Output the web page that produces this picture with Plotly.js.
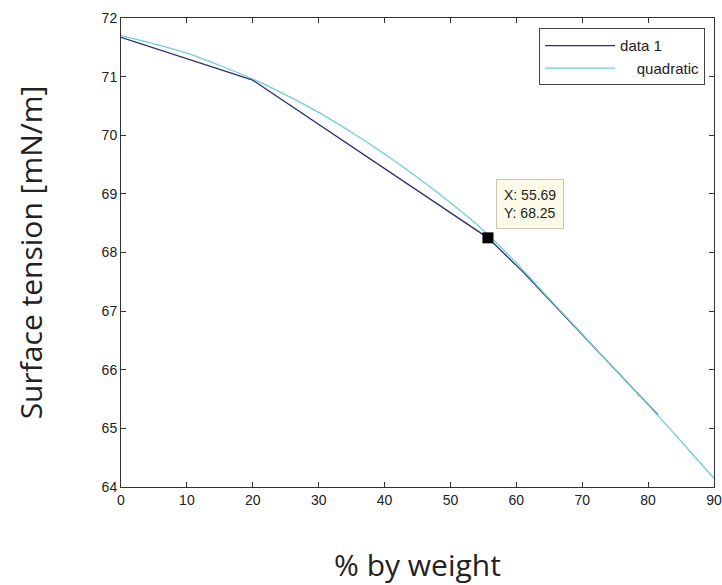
<!DOCTYPE html>
<html>
<head>
<meta charset="utf-8">
<script src="https://cdn.plot.ly/plotly-3.0.1.min.js"></script>
<style>html,body{margin:0;padding:0;background:#fff;}#chart{width:722px;height:585px;}</style>
</head>
<body>
<div id="chart"></div>
<script>
// data 1 (measured)
const dataX = [0, 20, 55.69, 61, 81.5];
const dataY = [71.67, 70.94, 68.25, 67.67, 65.23];
// quadratic fit curve
const quadX = [0, 5, 10, 15, 20, 25, 30, 35, 40, 45, 50, 55, 60, 65, 70, 75, 80, 85, 90];
const quadY = [71.70, 71.56, 71.40, 71.19, 70.96, 70.69, 70.39, 70.05, 69.68, 69.28, 68.85, 68.38, 67.82, 67.21, 66.61, 66.00, 65.40, 64.78, 64.15];
// data tip
const tipX = [55.69];
const tipY = [68.25];
const xTicks = [0, 10, 20, 30, 40, 50, 60, 70, 80, 90];
const yTicks = [64, 65, 66, 67, 68, 69, 70, 71, 72];

const traces = [
  {x: dataX, y: dataY, mode: 'lines', name: 'data 1', line: {color: '#2e2f6a', width: 1.3}},
  {x: quadX, y: quadY, mode: 'lines', name: '    quadratic', line: {color: '#6fcfd2', width: 1.3, shape: 'spline'}},
  {x: tipX, y: tipY, mode: 'markers', showlegend: false, marker: {symbol: 'square', size: 11, color: '#000'}}
];

const axisCommon = {
  showgrid: false, zeroline: false, showline: true, mirror: 'ticks',
  linecolor: '#333', linewidth: 1, ticks: 'inside', ticklen: 5, tickcolor: '#333',
  tickfont: {family: 'Liberation Sans, Arial, sans-serif', size: 14, color: '#222'}
};

const layout = {
  width: 722, height: 585,
  paper_bgcolor: '#fff', plot_bgcolor: '#fff',
  margin: {l: 121, r: 8, t: 18, b: 98},
  showlegend: true,
  legend: {x: 0.985, y: 0.978, xanchor: 'right', yanchor: 'top', bgcolor: '#fff',
           bordercolor: '#444', borderwidth: 1, itemwidth: 70,
           font: {family: 'Liberation Sans, Arial, sans-serif', size: 15, color: '#222'},
           tracegroupgap: 0},
  xaxis: Object.assign({}, axisCommon, {
    range: [0, 90], tickvals: xTicks, ticktext: xTicks.map(String),
    title: {text: '% by weight', font: {family: 'Open Sans, sans-serif', size: 30, color: '#222'}, standoff: 52}
  }),
  yaxis: Object.assign({}, axisCommon, {
    range: [64, 72], tickvals: yTicks, ticktext: yTicks.map(String),
    title: {text: 'Surface tension [mN/m]', font: {family: 'Open Sans, sans-serif', size: 30, color: '#222'}, standoff: 50}
  }),
  annotations: [{
    x: tipX[0], y: tipY[0], xref: 'x', yref: 'y',
    text: 'X: ' + tipX[0].toFixed(2) + '<br>Y: ' + tipY[0].toFixed(2),
    showarrow: true, arrowcolor: 'rgba(0,0,0,0)', ax: 42, ay: -34,
    align: 'left', bgcolor: '#fbfbe8', bordercolor: '#c8c8b4', borderwidth: 1, borderpad: 7,
    font: {family: 'Liberation Sans, Arial, sans-serif', size: 14, color: '#222'}
  }]
};

Plotly.newPlot('chart', traces, layout, {displayModeBar: false, staticPlot: true});
</script>
</body>
</html>
